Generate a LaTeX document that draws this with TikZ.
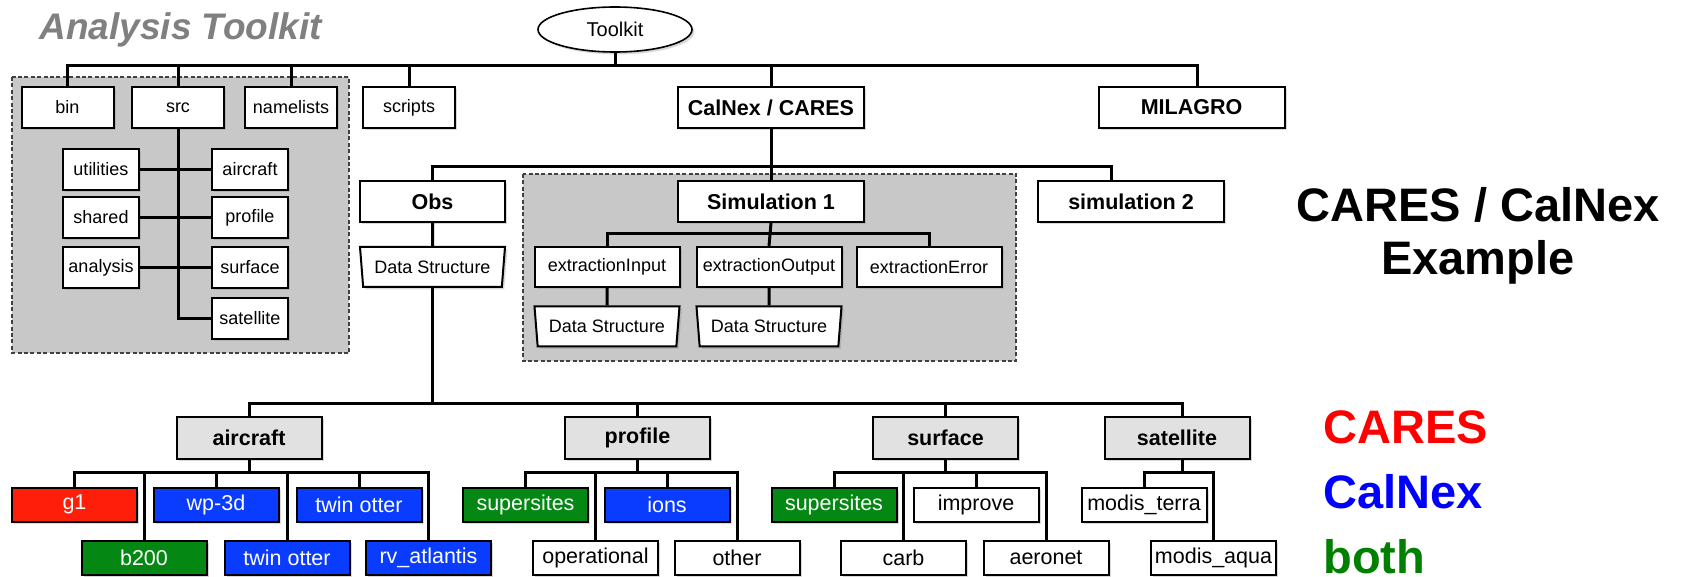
\documentclass[tikz,border=0pt]{standalone}
\usepackage{fontspec}
\setmainfont{Liberation Sans}
\usepackage{xcolor}
\usepackage{tikz}
\usetikzlibrary{shapes, positioning, calc, shadows}

\definecolor{caresred}{RGB}{255,30,10}
\definecolor{calnexblue}{RGB}{10,60,255}
\definecolor{bothgreen}{RGB}{5,135,20}
\definecolor{catgray}{RGB}{225,225,225}
\definecolor{groupgray}{RGB}{200,200,200}
\definecolor{headgray}{RGB}{128,128,128}

\begin{document}
\begin{tikzpicture}[x=0.5pt, y=-0.5pt,
    box/.style={draw, line width=1pt, fill=white, inner sep=0pt, minimum height=20.5pt,
        font=\fontsize{9}{10}\selectfont,
        drop shadow={shadow xshift=1.2pt, shadow yshift=-1.2pt, opacity=0.3}},
    small/.style={box, minimum width=46pt},
    major/.style={box, minimum width=93pt, font=\fontsize{10.75}{12}\selectfont\bfseries},
    sub/.style={box, minimum width=38pt},
    extract/.style={box, minimum width=72.5pt, minimum height=20pt},
    datastruct/.style={box, trapezium, trapezium stretches body, shape border rotate=180,
        trapezium left angle=76, trapezium right angle=76,
        minimum width=72.5pt, minimum height=20pt},
    category/.style={major, fill=catgray, minimum width=72.5pt, minimum height=21pt},
    leaf/.style={box, minimum width=62.5pt, minimum height=17pt, font=\fontsize{10.75}{12}\selectfont},
    caresbox/.style={leaf, fill=caresred, text=white},
    calnexbox/.style={leaf, fill=calnexblue, text=white},
    bothbox/.style={leaf, fill=bothgreen, text=white},
    group/.style={draw=black!75, fill=groupgray, line width=0.6pt, dash pattern=on 2pt off 1.2pt},
    conn/.style={line width=1.5pt},
    legend/.style={anchor=base west, inner sep=0pt, font=\fontsize{23.5}{26}\selectfont\bfseries}]

    \useasboundingbox (0,0) rectangle (1682,577);

    % grey groups
    \draw[group] (12,77) rectangle (349,353);
    \draw[group] (523,174) rectangle (1016,361);

    \node[anchor=base west, inner sep=0pt, text=headgray,
          font=\fontsize{18.5}{20}\selectfont\bfseries\itshape] (heading) at (39,40) {Analysis Toolkit};

    % root
    \node[ellipse, draw, line width=0.8pt, fill=white, inner sep=0pt, minimum width=77pt, minimum height=22.5pt,
          font=\fontsize{10}{12}\selectfont,
          drop shadow={shadow xshift=1.2pt, shadow yshift=-1.2pt, opacity=0.3}] (toolkit) at (615,29.5) {Toolkit};

    % first level
    \node[small] (bin) at (67.5,107.5) {bin};
    \node[small] (src) at (178,107.5) {src};
    \node[small] (namelists) at (291,107.5) {namelists};
    \node[small] (scripts) at (409,107.5) {scripts};
    \node[major] (calnex) at (771,107.5) {CalNex / CARES};
    \node[major] (milagro) at (1191.5,107.5) {MILAGRO};

    % src contents
    \node[sub] (utilities) at (101,169.5) {utilities};
    \node[sub] (shared) at (101,217.5) {shared};
    \node[sub] (analysis) at (101,267.5) {analysis};
    \node[sub] (srcaircraft) at (250,169.5) {aircraft};
    \node[sub] (srcprofile) at (250,217.5) {profile};
    \node[sub] (srcsurface) at (250,267.5) {surface};
    \node[sub] (srcsatellite) at (250,318.5) {satellite};

    % campaign level
    \node[major, minimum width=72.5pt] (obs) at (432.5,201.5) {Obs};
    \node[major] (simone) at (771,201.5) {Simulation 1};
    \node[major] (simtwo) at (1131,201.5) {simulation 2};

    \node[datastruct] (obsdata) at (432.5,267) {Data Structure};
    \node[extract] (exinput) at (607,267) {extractionInput};
    \node[extract] (exoutput) at (769,267) {extractionOutput};
    \node[extract] (exerror) at (929,267) {extractionError};
    \node[datastruct] (indata) at (607,326.5) {Data Structure};
    \node[datastruct] (outdata) at (769,326.5) {Data Structure};

    % observation types
    \node[category] (aircraft) at (249,438) {aircraft};
    \node[category] (profile) at (637.5,438) {profile};
    \node[category] (surface) at (945.5,438) {surface};
    \node[category] (satellite) at (1177,438) {satellite};

    % platforms, top row
    \node[caresbox] (g1) at (74.5,504.5) {g1};
    \node[calnexbox] (wp3d) at (216,504.5) {wp-3d};
    \node[calnexbox] (twinA) at (359,504.5) {twin otter};
    \node[bothbox] (supA) at (525.5,504.5) {supersites};
    \node[calnexbox] (ions) at (667,504.5) {ions};
    \node[bothbox] (supB) at (834,504.5) {supersites};
    \node[leaf] (improve) at (976,504.5) {improve};
    \node[leaf] (terra) at (1144,504.5) {modis\_terra};

    % platforms, bottom row
    \node[bothbox] (b200) at (144,557.5) {b200};
    \node[calnexbox] (twinB) at (287,557.5) {twin otter};
    \node[calnexbox] (rvatlantis) at (428.5,557.5) {rv\_atlantis};
    \node[leaf] (operational) at (595.5,557.5) {operational};
    \node[leaf] (other) at (737,557.5) {other};
    \node[leaf] (carb) at (903.5,557.5) {carb};
    \node[leaf] (aeronet) at (1046,557.5) {aeronet};
    \node[leaf] (aqua) at (1213.5,557.5) {modis\_aqua};

    % bus heights
    \coordinate (topbus) at (0,66);
    \coordinate (obsbus) at (0,167);
    \coordinate (simbus) at (0,234);
    \coordinate (catbus) at (0,403);
    \coordinate (leafbus) at (0,472);

    % connectors
    \draw[conn] (toolkit.south) -- (toolkit.south |- topbus);
    \draw[conn] (bin.north) |- ([xshift=3pt]milagro.north |- topbus) -- ([xshift=3pt]milagro.north);
    \foreach \n in {src,namelists,scripts,calnex}
        \draw[conn] (\n.north) -- (\n.north |- topbus);

    \draw[conn] (src.south) |- (srcsatellite.west);
    \draw[conn] (utilities.east) -- (srcaircraft.west);
    \draw[conn] (shared.east) -- (srcprofile.west);
    \draw[conn] (analysis.east) -- (srcsurface.west);

    \draw[conn] (obs.north) |- ([xshift=-10pt]simtwo.north |- obsbus) -- ([xshift=-10pt]simtwo.north);
    \draw[conn] (calnex.south) -- (simone.north);
    \draw[conn] (exinput.north) |- (exerror.north |- simbus) -- (exerror.north);
    \draw[conn] (simone.south) -- (exoutput.north);
    \draw[conn] (exinput.south) -- (indata.north);
    \draw[conn] (exoutput.south) -- (outdata.north);

    \draw[conn] (obs.south) -- (obsdata.north);
    \draw[conn] (obsdata.south) -- (obsdata.south |- catbus);
    \draw[conn] (aircraft.north) |- ([xshift=2.5pt]satellite.north |- catbus) -- ([xshift=2.5pt]satellite.north);
    \foreach \n in {profile,surface}
        \draw[conn] (\n.north) -- (\n.north |- catbus);

    \draw[conn] (g1.north) |- (rvatlantis.north |- leafbus) -- (rvatlantis.north);
    \draw[conn] (supA.north) |- (other.north |- leafbus) -- (other.north);
    \draw[conn] (supB.north) |- (aeronet.north |- leafbus) -- (aeronet.north);
    \draw[conn] (terra.north) |- (aqua.north |- leafbus) -- (aqua.north);
    \foreach \n in {wp3d,twinA,b200,twinB,ions,operational,improve,carb}
        \draw[conn] (\n.north) -- (\n.north |- leafbus);
    \foreach \n in {aircraft,profile,surface}
        \draw[conn] (\n.south) -- (\n.south |- leafbus);
    \draw[conn] ([xshift=2.5pt]satellite.south) -- ([xshift=2.5pt]satellite.south |- leafbus);

    % title and legend
    \node[anchor=base, inner sep=0pt, font=\fontsize{23.5}{26}\selectfont\bfseries] (title) at (1478,222) {CARES / CalNex};
    \node[anchor=base, inner sep=0pt, font=\fontsize{23.5}{26}\selectfont\bfseries] (titlesub) at (1478,275) {Example};
    \node[legend, text=red] (keycares) at (1323,443) {CARES};
    \node[legend, text=blue] (keycalnex) at (1323,508) {CalNex};
    \node[legend, text=green!50!black] (keyboth) at (1323,573) {both};
\end{tikzpicture}
\end{document}
